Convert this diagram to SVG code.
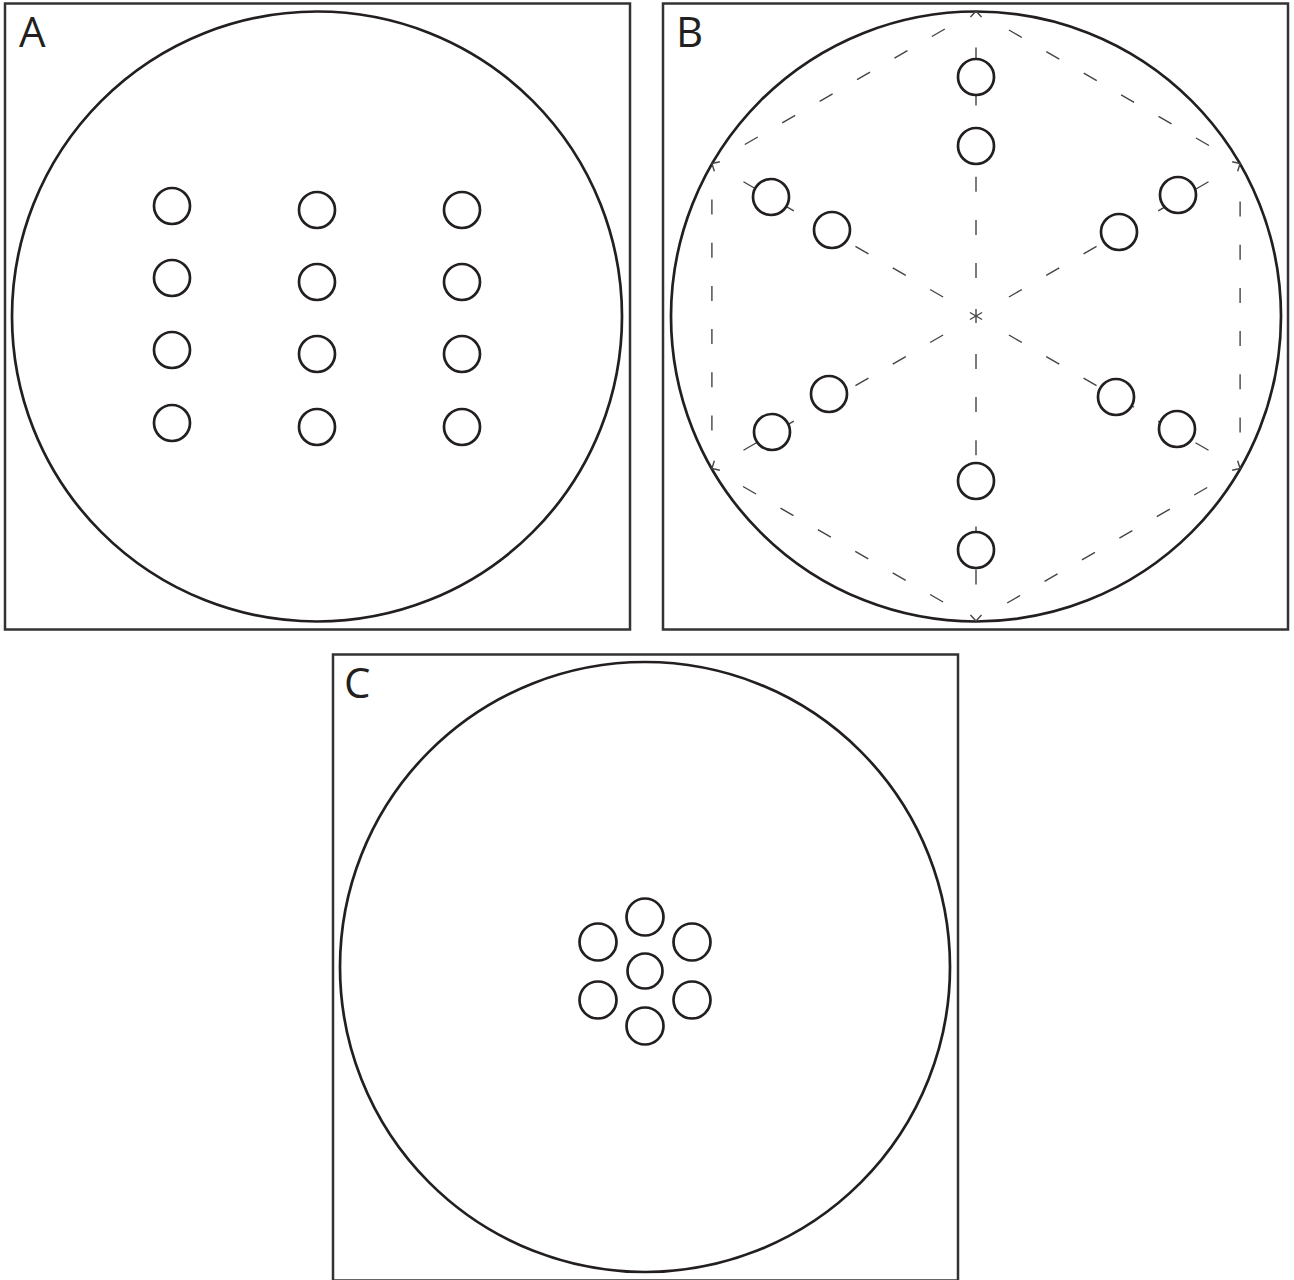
<svg xmlns="http://www.w3.org/2000/svg" width="1294" height="1280" viewBox="0 0 1294 1280">
<style>
.frame{fill:none;stroke:#333;stroke-width:2.5}
.big{fill:none;stroke:#231f20;stroke-width:2.7}
.hole{fill:#fff;stroke:#231f20;stroke-width:2.7}
.spoke{fill:none;stroke:#444;stroke-width:1.4;stroke-dasharray:7 31 15 28.1 15 28.1 15 28.1 15 28.1 15 28.1 15 200}
.edge{fill:none;stroke:#444;stroke-width:1.4;stroke-dasharray:0 38 15 28.2 15 28.2 15 28.2 15 28.2 15 28.2 15 200}
.lbl{font-family:"Open Sans","Liberation Sans",sans-serif;font-size:42px;fill:#231f20}
</style>
<defs>
<marker id="arr" viewBox="-8 -7 10 14" markerWidth="10" markerHeight="14" refX="0" refY="0" orient="auto" markerUnits="userSpaceOnUse">
<path d="M-6,-5.5 L0,0 L-6,5.5" fill="none" stroke="#444" stroke-width="1.4"/>
</marker>
</defs>
<rect width="1294" height="1280" fill="#fff"/>

<g id="panelA">
<rect class="frame" x="5" y="3.5" width="625" height="626"/>
<text class="lbl" x="19" y="47">A</text>
<circle class="big" cx="317" cy="316.5" r="305"/>
<g id="holesA">
<circle class="hole" cx="172" cy="206" r="18"/>
<circle class="hole" cx="172" cy="278" r="18"/>
<circle class="hole" cx="172" cy="350" r="18"/>
<circle class="hole" cx="172" cy="423" r="18"/>
<circle class="hole" cx="317" cy="210" r="18"/>
<circle class="hole" cx="317" cy="282" r="18"/>
<circle class="hole" cx="317" cy="354" r="18"/>
<circle class="hole" cx="317" cy="427" r="18"/>
<circle class="hole" cx="462" cy="210" r="18"/>
<circle class="hole" cx="462" cy="282" r="18"/>
<circle class="hole" cx="462" cy="354" r="18"/>
<circle class="hole" cx="462" cy="427" r="18"/>
</g>
</g>

<g id="panelB">
<rect class="frame" x="663" y="3.5" width="625" height="626"/>
<text class="lbl" x="676" y="47">B</text>
<circle class="big" cx="976" cy="316.5" r="305"/>
<g id="connectors">
<line class="spoke" x1="976" y1="316" x2="976" y2="11" marker-end="url(#arr)"/>
<line class="spoke" x1="976" y1="316" x2="1240.1" y2="163.5" marker-end="url(#arr)"/>
<line class="spoke" x1="976" y1="316" x2="1240.1" y2="468.5" marker-end="url(#arr)"/>
<line class="spoke" x1="976" y1="316" x2="976" y2="621" marker-end="url(#arr)"/>
<line class="spoke" x1="976" y1="316" x2="711.9" y2="468.5" marker-end="url(#arr)"/>
<line class="spoke" x1="976" y1="316" x2="711.9" y2="163.5" marker-end="url(#arr)"/>
<line class="edge" x1="976" y1="11" x2="1240.1" y2="163.5"/>
<line class="edge" x1="1240.1" y1="163.5" x2="1240.1" y2="468.5"/>
<line class="edge" x1="1240.1" y1="468.5" x2="976" y2="621"/>
<line class="edge" x1="976" y1="621" x2="711.9" y2="468.5"/>
<line class="edge" x1="711.9" y1="468.5" x2="711.9" y2="163.5"/>
<line class="edge" x1="711.9" y1="163.5" x2="976" y2="11"/>
</g>
<g id="holesB">
<circle class="hole" cx="976" cy="77" r="18"/>
<circle class="hole" cx="976" cy="146" r="18"/>
<circle class="hole" cx="771" cy="197" r="18"/>
<circle class="hole" cx="832" cy="230" r="18"/>
<circle class="hole" cx="1178" cy="195" r="18"/>
<circle class="hole" cx="1119" cy="232" r="18"/>
<circle class="hole" cx="829" cy="394" r="18"/>
<circle class="hole" cx="772" cy="432" r="18"/>
<circle class="hole" cx="1116" cy="397" r="18"/>
<circle class="hole" cx="1177" cy="429" r="18"/>
<circle class="hole" cx="976" cy="481" r="18"/>
<circle class="hole" cx="976" cy="550" r="18"/>
</g>
</g>

<g id="panelC">
<rect class="frame" x="333" y="654.5" width="625" height="626"/>
<text class="lbl" x="344" y="698">C</text>
<circle class="big" cx="645" cy="967" r="305"/>
<g id="holesC">
<circle class="hole" cx="645" cy="917" r="18.5"/>
<circle class="hole" cx="598" cy="942" r="18.5"/>
<circle class="hole" cx="692" cy="942" r="18.5"/>
<circle class="hole" cx="645" cy="971" r="17.5"/>
<circle class="hole" cx="598" cy="1000" r="18.5"/>
<circle class="hole" cx="692" cy="1000" r="18.5"/>
<circle class="hole" cx="645" cy="1026" r="18.5"/>
</g>
</g>
</svg>
